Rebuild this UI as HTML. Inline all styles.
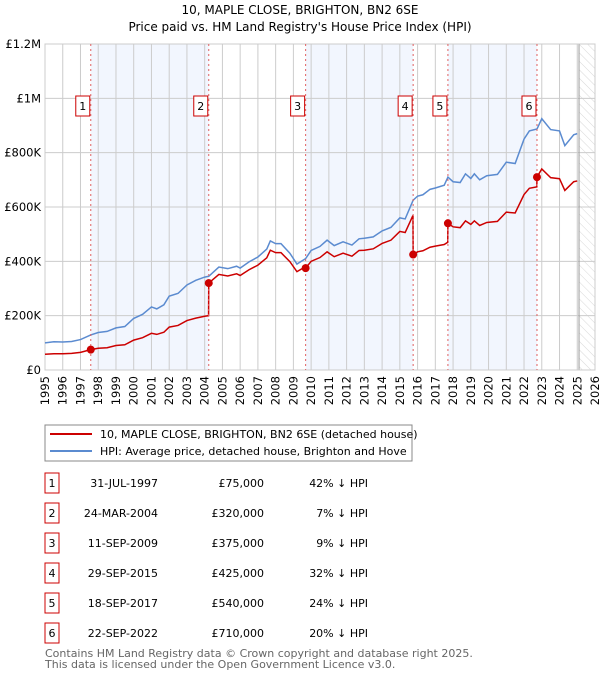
<!DOCTYPE html>
<html><head><meta charset="utf-8"><style>
body{margin:0;background:#fff;font-family:"DejaVu Sans","Liberation Sans",sans-serif;}
svg text{font-family:"DejaVu Sans","Liberation Sans",sans-serif;}
</style></head><body>
<svg id="chart" width="600" height="680" xmlns="http://www.w3.org/2000/svg">
<defs><pattern id="hatch" width="6" height="6" patternUnits="userSpaceOnUse" patternTransform="rotate(-45)"><line x1="0" y1="0" x2="0" y2="6" stroke="#d8d8d8" stroke-width="1"/></pattern></defs>
<text x="300" y="14" text-anchor="middle" font-size="12">10, MAPLE CLOSE, BRIGHTON, BN2 6SE</text>
<text x="300" y="31" text-anchor="middle" font-size="12">Price paid vs. HM Land Registry's House Price Index (HPI)</text>
<g id="bands"></g><g id="grid"></g><g id="series"></g><g id="markers"></g>
<g id="legend">
<rect x="45" y="425" width="367" height="36" fill="#fff" stroke="#888"/>
<line x1="50" y1="434" x2="92" y2="434" stroke="#cc0000" stroke-width="2"/>
<text x="100" y="438" font-size="11">10, MAPLE CLOSE, BRIGHTON, BN2 6SE (detached house)</text>
<line x1="50" y1="451" x2="92" y2="451" stroke="#5b8bd0" stroke-width="2"/>
<text x="100" y="455" font-size="11">HPI: Average price, detached house, Brighton and Hove</text>
</g>
<g id="table"></g>
<text x="45" y="657" font-size="11" fill="#666">Contains HM Land Registry data © Crown copyright and database right 2025.</text>
<text x="45" y="668" font-size="11" fill="#666">This data is licensed under the Open Government Licence v3.0.</text>
</svg>
<script>
const hpiYears=[1995,1995.5,1996,1996.5,1997,1997.58,1998,1998.5,1999,1999.5,2000,2000.5,2001,2001.3,2001.7,2002,2002.5,2003,2003.5,2004,2004.23,2004.8,2005.3,2005.8,2006,2006.5,2007,2007.5,2007.7,2008,2008.3,2008.8,2009.2,2009.69,2010,2010.5,2010.9,2011.3,2011.8,2012.3,2012.7,2013,2013.5,2014,2014.5,2015,2015.3,2015.75,2016,2016.3,2016.7,2017,2017.5,2017.71,2018,2018.4,2018.7,2019,2019.2,2019.5,2019.9,2020.5,2021,2021.5,2022,2022.3,2022.73,2023,2023.5,2024,2024.3,2024.8,2025];
const hpiValues=[100,104,103,105,112,129,138,142,155,160,190,205,232,225,240,272,282,313,330,342,345,379,373,382,375,398,416,445,475,465,465,430,390,410,440,455,478,458,472,460,483,485,490,512,525,560,556,625,640,645,665,670,680,710,693,690,722,705,722,700,715,720,765,760,850,880,887,925,885,880,826,866,870];
const priceYears=[1995,1995.5,1996,1996.5,1997,1997.58,1998,1998.5,1999,1999.5,2000,2000.5,2001,2001.3,2001.7,2002,2002.5,2003,2003.5,2004,2004.22,2004.23,2004.8,2005.3,2005.8,2006,2006.5,2007,2007.5,2007.7,2008,2008.3,2008.8,2009.2,2009.68,2009.69,2010,2010.5,2010.9,2011.3,2011.8,2012.3,2012.7,2013,2013.5,2014,2014.5,2015,2015.3,2015.74,2015.75,2016,2016.3,2016.7,2017,2017.5,2017.70,2017.71,2018,2018.4,2018.7,2019,2019.2,2019.5,2019.9,2020.5,2021,2021.5,2022,2022.3,2022.72,2022.73,2023,2023.5,2024,2024.3,2024.8,2025];
const priceValues=[58,60,60,61,65,75,80,82,90,93,110,119,135,131,139,158,164,182,191,198,200,320,352,346,354,348,369,386,413,441,432,432,399,362,380,375,400,414,435,417,430,419,440,441,446,466,478,510,506,569,425,435,439,452,456,462,470,540,527,524,549,536,549,532,543,547,581,578,646,669,674,710,740,708,704,661,693,696];
const saleYears=[1997.58,2004.23,2009.69,2015.75,2017.71,2022.73];
const saleValues=[75,320,375,425,540,710];
const saleDates=["31-JUL-1997","24-MAR-2004","11-SEP-2009","29-SEP-2015","18-SEP-2017","22-SEP-2022"];
const salePrices=["£75,000","£320,000","£375,000","£425,000","£540,000","£710,000"];
const saleDiffs=["42% ↓ HPI","7% ↓ HPI","9% ↓ HPI","32% ↓ HPI","24% ↓ HPI","20% ↓ HPI"];
const yTicks=[0,200,400,600,800,1000,1200];
const yTickLabels=["£0","£200K","£400K","£600K","£800K","£1M","£1.2M"];
const xTicks=[1995,1996,1997,1998,1999,2000,2001,2002,2003,2004,2005,2006,2007,2008,2009,2010,2011,2012,2013,2014,2015,2016,2017,2018,2019,2020,2021,2022,2023,2024,2025,2026];
const X0=45,X1=595,Y0=370,Y1=44;
const xs=y=>X0+(y-1995)*(X1-X0)/31;
const ys=v=>Y0-v*(Y0-Y1)/1200;
const NS="http://www.w3.org/2000/svg";
function mk(parent,tag,attrs){const e=document.createElementNS(NS,tag);for(const k in attrs)e.setAttribute(k,attrs[k]);document.getElementById(parent).appendChild(e);return e;}
for(let i=0;i<6;i+=2){const b=mk('bands','rect',{x:xs(saleYears[i]),y:Y1,width:xs(saleYears[i+1])-xs(saleYears[i]),height:Y0-Y1,fill:'#eef3fd',opacity:0.75});

}
const h=mk('bands','rect',{x:xs(2025.1),y:Y1,width:X1-xs(2025.1),height:Y0-Y1,fill:'url(#hatch)'});


yTicks.forEach((v,i)=>{const l=mk('grid','line',{x1:X0,x2:X1,y1:ys(v),y2:ys(v),stroke:'#ccc'});


const t=mk('grid','text',{x:X0-4,y:ys(v)+4,'text-anchor':'end','font-size':11.5});t.textContent=yTickLabels[i];

});
xTicks.forEach(y=>{const l=mk('grid','line',{x1:xs(y),x2:xs(y),y1:Y1,y2:Y0,stroke:'#ccc'});


const t=mk('grid','text',{x:0,y:0,'font-size':11.5,'text-anchor':'end',transform:`translate(${xs(y)+4},${Y0+6}) rotate(-90)`});t.textContent=y;

});
const bl=mk('grid','line',{x1:xs(2025.1),x2:xs(2025.1),y1:Y1,y2:Y0,stroke:'#999','stroke-width':1});


const fr=mk('grid','rect',{x:X0,y:Y1,width:X1-X0,height:Y0-Y1,fill:'none',stroke:'#ccc'});


const hp=mk('series','polyline',{points:hpiYears.map((y,i)=>xs(y)+','+ys(hpiValues[i])).join(' '),fill:'none',stroke:'#5b8bd0','stroke-width':1.5});


const pp=mk('series','polyline',{points:priceYears.map((y,i)=>xs(y)+','+ys(priceValues[i])).join(' '),fill:'none',stroke:'#cc0000','stroke-width':1.5});


saleYears.forEach((y,i)=>{const x=xs(y);
const l=mk('markers','line',{x1:x,x2:x,y1:Y1,y2:Y0,stroke:'#e06060','stroke-dasharray':'2,3'});


const c=mk('markers','circle',{cx:x,cy:ys(saleValues[i]),r:4,fill:'#cc0000'});


const r=mk('markers','rect',{x:x-15,y:96,width:14,height:20,fill:'#fff',stroke:'#cc0000'});


const t=mk('markers','text',{x:x-8,y:110,'text-anchor':'middle','font-size':11});t.textContent=i+1;


const cy=483+i*30;
const tb=mk('table','rect',{x:45,y:cy-10,width:14,height:20,fill:'#fff',stroke:'#cc0000'});


const tn=mk('table','text',{x:52,y:cy+4,'text-anchor':'middle','font-size':11});tn.textContent=i+1;


const td=mk('table','text',{x:158,y:cy+4,'text-anchor':'end','font-size':11});td.textContent=saleDates[i];


const tp=mk('table','text',{x:264,y:cy+4,'text-anchor':'end','font-size':11});tp.textContent=salePrices[i];


const th=mk('table','text',{x:368,y:cy+4,'text-anchor':'end','font-size':11});th.textContent=saleDiffs[i];


});
</script>
</body></html>
